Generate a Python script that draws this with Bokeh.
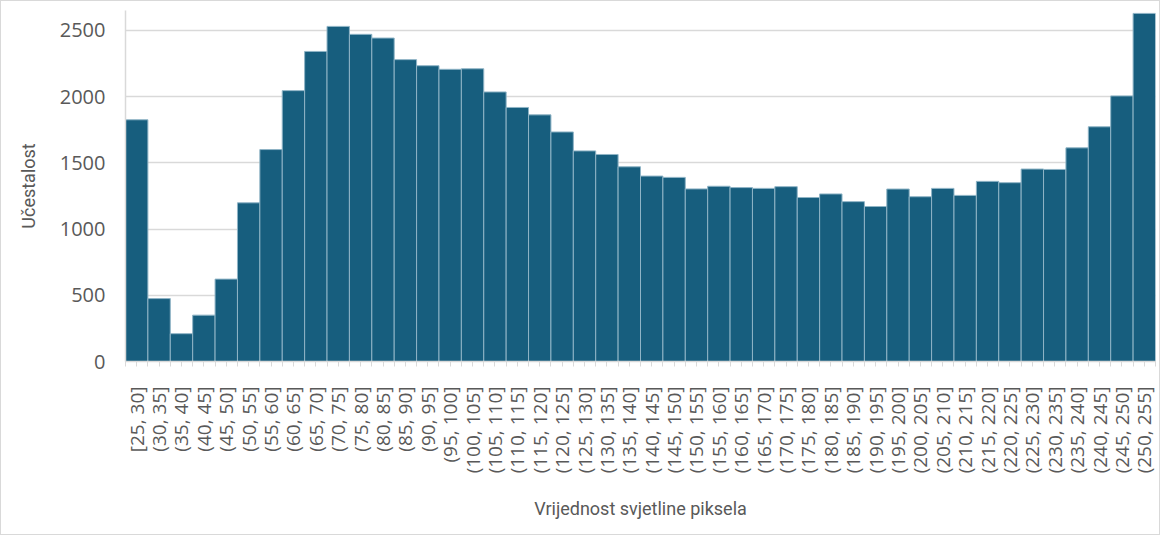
import math
from bokeh.plotting import figure
from bokeh.models import Range1d, FixedTicker
from bokeh.embed import file_html
from bokeh.resources import INLINE

bins = ["[25, 30]", "(30, 35]", "(35, 40]", "(40, 45]", "(45, 50]", "(50, 55]",
        "(55, 60]", "(60, 65]", "(65, 70]", "(70, 75]", "(75, 80]", "(80, 85]",
        "(85, 90]", "(90, 95]", "(95, 100]", "(100, 105]", "(105, 110]", "(110, 115]",
        "(115, 120]", "(120, 125]", "(125, 130]", "(130, 135]", "(135, 140]", "(140, 145]",
        "(145, 150]", "(150, 155]", "(155, 160]", "(160, 165]", "(165, 170]", "(170, 175]",
        "(175, 180]", "(180, 185]", "(185, 190]", "(190, 195]", "(195, 200]", "(200, 205]",
        "(205, 210]", "(210, 215]", "(215, 220]", "(220, 225]", "(225, 230]", "(230, 235]",
        "(235, 240]", "(240, 245]", "(245, 250]", "(250, 255]"]

counts = [1825, 475, 210, 350, 622, 1198, 1600, 2045, 2341, 2530, 2470, 2442,
          2279, 2233, 2206, 2210, 2035, 1918, 1862, 1733, 1590, 1563, 1470, 1400,
          1390, 1303, 1323, 1313, 1307, 1320, 1238, 1265, 1207, 1170, 1302, 1244,
          1307, 1254, 1360, 1350, 1453, 1450, 1613, 1772, 2005, 2628]

y_ticks = [0, 500, 1000, 1500, 2000, 2500]

centers = [i + 0.5 for i in range(len(bins))]
edges = [float(i) for i in range(len(bins) + 1)]

p = figure(width=1160, height=535, output_backend="svg", toolbar_location=None,
           x_range=Range1d(0, len(bins)), y_range=Range1d(0, 2650),
           min_border_left=124, min_border_right=6, min_border_top=9, min_border_bottom=175)

p.styles = {"border": "1px solid #d9d9d9"}
p.outline_line_color = None
p.background_fill_color = "white"
p.border_fill_color = "white"

p.vbar(x=centers, top=counts, width=1.0, bottom=0,
       fill_color="#175E7E", line_color="#8fb4c6", line_width=1)

# y axis
p.yaxis.ticker = FixedTicker(ticks=y_ticks)
p.yaxis.major_tick_line_color = None
p.yaxis.minor_tick_line_color = None
p.yaxis.axis_line_color = "#d9d9d9"
p.yaxis.axis_line_width = 1.5
p.yaxis.major_label_text_font = "Open Sans"
p.yaxis.major_label_text_font_size = "20px"
p.yaxis.major_label_text_color = "#595959"
p.yaxis.major_label_standoff = 14
p.yaxis.axis_label = "Učestalost"
p.yaxis.axis_label_text_font = "Roboto"
p.yaxis.axis_label_text_font_style = "normal"
p.yaxis.axis_label_text_font_size = "18px"
p.yaxis.axis_label_text_color = "#595959"
p.yaxis.axis_label_standoff = 18

# x axis
p.xaxis.ticker = FixedTicker(ticks=centers, minor_ticks=edges)
p.xaxis.major_label_overrides = {c: b for c, b in zip(centers, bins)}
p.xaxis.major_label_orientation = math.pi / 2
p.xaxis.major_label_text_font = "Open Sans"
p.xaxis.major_label_text_font_size = "19px"
p.xaxis.major_label_text_color = "#595959"
p.xaxis.major_label_standoff = 20
p.xaxis.axis_line_color = "#d9d9d9"
p.xaxis.axis_line_width = 1.5
p.xaxis.major_tick_line_color = "#d9d9d9"
p.xaxis.minor_tick_line_color = "#d9d9d9"
p.xaxis.major_tick_in = 0
p.xaxis.major_tick_out = 5
p.xaxis.minor_tick_in = 0
p.xaxis.minor_tick_out = 5
p.xaxis.axis_label = "Vrijednost svjetline piksela"
p.xaxis.axis_label_text_font = "Roboto"
p.xaxis.axis_label_text_font_style = "normal"
p.xaxis.axis_label_text_font_size = "18px"
p.xaxis.axis_label_text_color = "#595959"
p.xaxis.axis_label_standoff = 22

p.xgrid.grid_line_color = None
p.ygrid.grid_line_color = "#d9d9d9"
p.ygrid.grid_line_width = 1.5

open("out.html", "w").write(file_html(p, INLINE))
